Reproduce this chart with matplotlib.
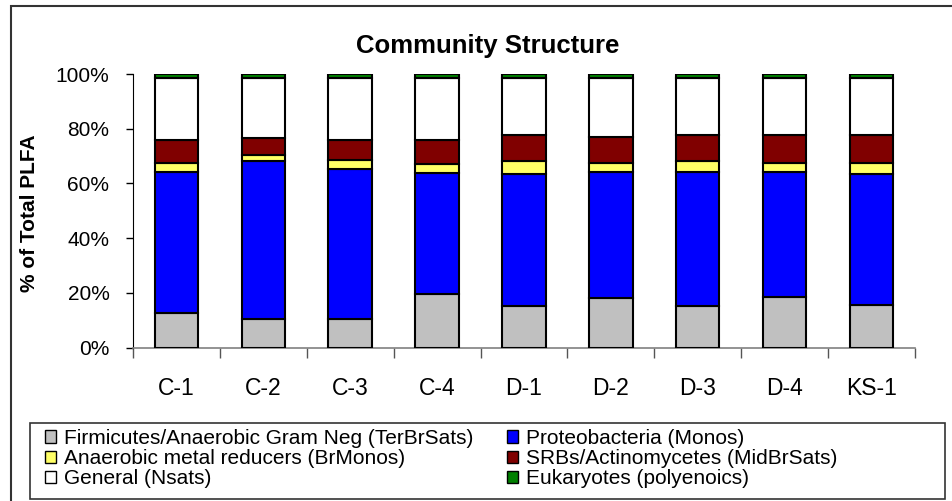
import matplotlib.pyplot as plt
import matplotlib.patches as patches
import numpy as np

plt.rcParams['font.family'] = ['Liberation Sans', 'DejaVu Sans']

samples = ["C-1", "C-2", "C-3", "C-4", "D-1", "D-2", "D-3", "D-4", "KS-1"]
groups = ["Firmicutes/Anaerobic Gram Neg (TerBrSats)",
          "Proteobacteria (Monos)",
          "Anaerobic metal reducers (BrMonos)",
          "SRBs/Actinomycetes (MidBrSats)",
          "General (Nsats)",
          "Eukaryotes (polyenoics)"]
colors = ["#C0C0C0", "#0000FF", "#FFFF66", "#800000", "#FFFFFF", "#008000"]

terbrsats = [12.8, 10.4, 10.4, 19.6, 15.2, 18.0, 15.2, 18.6, 15.6]
monos = [51.4, 57.9, 55.0, 44.1, 48.4, 46.2, 48.9, 45.5, 48.0]
brmonos = [3.4, 2.2, 3.1, 3.4, 4.7, 3.4, 4.1, 3.5, 3.9]
midbrsats = [8.3, 6.0, 7.4, 8.8, 9.4, 9.5, 9.5, 10.1, 10.2]
nsats = [22.8, 22.2, 22.8, 22.8, 21.0, 21.6, 21.0, 21.0, 21.0]
polyenoics = [1.3, 1.3, 1.3, 1.3, 1.3, 1.3, 1.3, 1.3, 1.3]

series = [terbrsats, monos, brmonos, midbrsats, nsats, polyenoics]

fig = plt.figure(figsize=(9.53, 5.01), dpi=100)
ax = fig.add_axes([133 / 953, 1 - 347.7 / 501, 782 / 953, 273.7 / 501])

x = np.arange(len(samples))
bottom = np.zeros(len(samples))
handles = []
for vals, c, name in zip(series, colors, groups):
    vals = np.array(vals)
    b = ax.bar(x, vals, 0.5, bottom=bottom, color=c, edgecolor="black",
               linewidth=1.5, label=name, zorder=3)
    handles.append(b)
    bottom += vals

ax.set_xlim(-0.5, len(samples) - 0.5)
ax.set_ylim(0, 100)
ax.set_yticks(range(0, 101, 20))
ax.set_yticklabels([f"{v}%" for v in range(0, 101, 20)], fontsize=15)
ax.set_xticks(np.arange(-0.5, len(samples), 1.0))
ax.set_xticklabels([])
ax.set_xticks(x, minor=True)
ax.set_xticklabels(samples, minor=True, fontsize=16.5)
ax.tick_params(axis="x", which="major", length=7, width=1, color="#555555")
ax.tick_params(axis="x", which="minor", length=0, pad=21)
ax.tick_params(axis="y", length=5, width=1, pad=12)
for s in ["top", "right"]:
    ax.spines[s].set_visible(False)
ax.spines["left"].set_color("black")
ax.spines["bottom"].set_color("#808080")
ax.spines["bottom"].set_linewidth(1.2)

ax.set_ylabel("% of Total PLFA", fontsize=15, fontweight="bold")
ax.yaxis.set_label_coords(-94 / 782, 0.49)

fig.text(488 / 953, 1 - 46 / 501, "Community Structure", ha="center",
         va="center", fontsize=18.5, fontweight="bold")

# outer frame (only left and top visible in the image)
fig.add_artist(patches.Rectangle((11 / 953, -0.1), 1.2, 1 - 6 / 501 + 0.1,
                                 transform=fig.transFigure, fill=False,
                                 edgecolor="#333333", linewidth=1.5))
# legend frame
fig.add_artist(patches.Rectangle((30 / 953, 1 - 499 / 501), 915 / 953, 76 / 501,
                                 transform=fig.transFigure, fill=False,
                                 edgecolor="#333333", linewidth=1.2))

order = [0, 2, 4, 1, 3, 5]
leg = fig.legend([handles[i] for i in order], [groups[i] for i in order],
                 ncol=2, loc="upper left", bbox_to_anchor=(45 / 953, 1 - 429 / 501),
                 frameon=False, fontsize=15, handlelength=0.53, handleheight=0.53,
                 handletextpad=0.4, columnspacing=1.6, labelspacing=0.06,
                 borderaxespad=0, borderpad=0)
for h in leg.legend_handles:
    h.set_linewidth(1.0)

fig.savefig("out.png", dpi=100)
